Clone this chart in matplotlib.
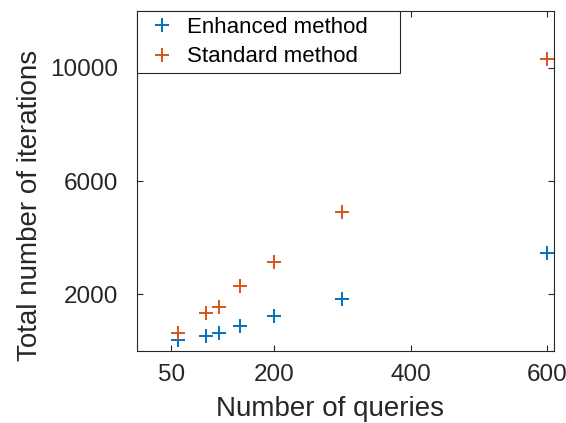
import matplotlib.pyplot as plt

plt.rcParams['font.family'] = ['Liberation Sans', 'DejaVu Sans']

queries = [60, 100, 120, 150, 200, 300, 600]
enhanced = [400, 540, 620, 890, 1240, 1830, 3470]
standard = [650, 1330, 1570, 2290, 3150, 4900, 10290]

fig = plt.figure(figsize=(5.66, 4.23), dpi=100)
ax = fig.add_axes([0.2426, 0.1702, 0.7362, 0.8038])

ax.plot(queries, enhanced, '+', color='#0072BD', markersize=10, markeredgewidth=1.4,
        label='Enhanced method')
ax.plot(queries, standard, '+', color='#D95319', markersize=10, markeredgewidth=1.4,
        label='Standard method')

ax.set_xlim(0, 610)
ax.set_ylim(0, 12000)
ax.set_xticks([50, 200, 400, 600])
ax.set_yticks([2000, 6000, 10000])
ax.tick_params(direction='in', top=True, right=True, labelsize=17.5,
               colors='#262626', length=4)
ax.tick_params(axis='x', pad=9)
ax.tick_params(axis='y', pad=14)
for s in ax.spines.values():
    s.set_color('#262626')
    s.set_linewidth(0.8)

ax.set_xlabel('Number of queries', fontsize=20, color='#262626')
ax.set_ylabel('Total number of iterations', fontsize=20, color='#262626')
ax.xaxis.set_label_coords(0.4625, -0.132)
ax.yaxis.set_label_coords(-0.226, 0.429)

leg = ax.legend(loc='upper left', bbox_to_anchor=(0, 1, 0.631, 0), mode='expand',
                borderaxespad=0, fontsize=16, fancybox=False,
                framealpha=1, edgecolor='#262626', handletextpad=0.25,
                labelspacing=0.38, handlelength=1.7, borderpad=0.27)
leg.get_frame().set_linewidth(0.8)

fig.savefig('out.png', dpi=100)
